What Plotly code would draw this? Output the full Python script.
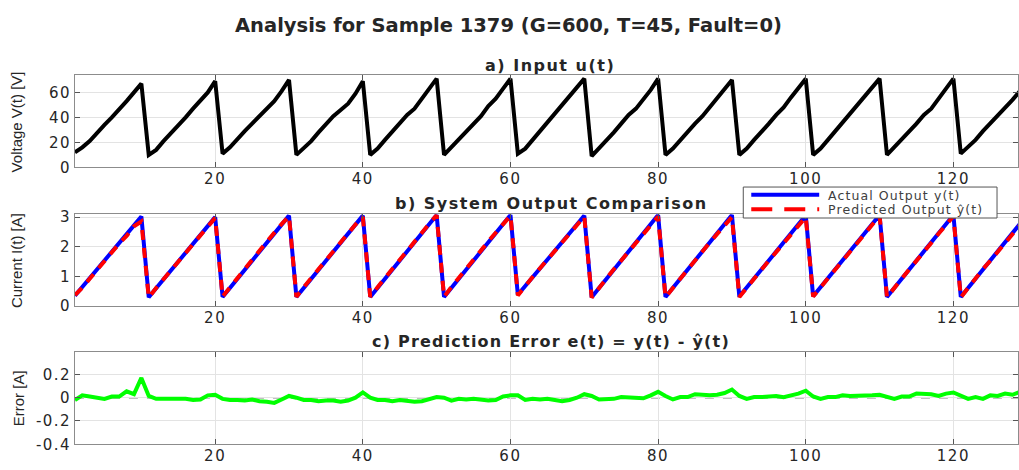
import plotly.graph_objects as go

t = list(range(1, 130))

u_input = [
    12, 16, 21, 28, 34, 40, 46, 53, 60, 67,
    10, 14, 21, 27, 33, 40, 47, 53, 60, 69,
    11, 16, 23, 29, 35, 41, 47, 53, 61, 70,
    10, 15, 21, 28, 35, 41, 46, 51, 59, 69,
    10, 15, 22, 29, 35, 42, 47, 55, 62, 71,
    10, 16, 22, 28, 35, 41, 49, 55, 63, 71,
    11, 15, 22, 29, 36, 42, 49, 56, 63, 71,
    9, 15, 21, 28, 35, 42, 47, 54, 62, 71,
    10, 15, 22, 29, 35, 41, 48, 55, 63, 70,
    10, 15, 22, 28, 35, 42, 48, 56, 63, 71,
    10, 15, 22, 29, 36, 42, 49, 56, 63, 71,
    10, 16, 22, 28, 35, 42, 47, 55, 63, 71,
    11, 16, 22, 29, 35, 41, 48, 54, 61,
]

y_actual = [
    0.35, 0.64, 0.93, 1.23, 1.52, 1.82, 2.12, 2.42, 2.72, 3.02,
    0.30, 0.60, 0.90, 1.20, 1.50, 1.80, 2.10, 2.40, 2.70, 3.00,
    0.31, 0.62, 0.92, 1.23, 1.53, 1.84, 2.14, 2.45, 2.75, 3.05,
    0.31, 0.62, 0.92, 1.23, 1.53, 1.84, 2.14, 2.45, 2.75, 3.05,
    0.31, 0.62, 0.93, 1.24, 1.55, 1.85, 2.16, 2.46, 2.77, 3.07,
    0.31, 0.62, 0.93, 1.24, 1.55, 1.85, 2.16, 2.46, 2.77, 3.07,
    0.38, 0.67, 0.97, 1.26, 1.56, 1.85, 2.15, 2.45, 2.75, 3.05,
    0.30, 0.61, 0.92, 1.23, 1.54, 1.85, 2.15, 2.46, 2.77, 3.07,
    0.31, 0.62, 0.93, 1.24, 1.55, 1.85, 2.16, 2.46, 2.77, 3.07,
    0.32, 0.62, 0.93, 1.23, 1.54, 1.84, 2.15, 2.45, 2.76, 3.06,
    0.33, 0.63, 0.94, 1.24, 1.55, 1.85, 2.16, 2.46, 2.77, 3.07,
    0.31, 0.62, 0.93, 1.24, 1.55, 1.85, 2.16, 2.46, 2.77, 3.07,
    0.31, 0.62, 0.93, 1.24, 1.55, 1.85, 2.16, 2.46, 2.77,
]

error = [
    -0.02, 0.02, 0.01, 0.00, -0.01, 0.01, 0.01, 0.055, 0.03, 0.17,
    0.015, -0.01, -0.01, -0.015, -0.01, -0.01, -0.02, -0.015, 0.02, 0.025,
    -0.01, -0.02, -0.02, -0.025, -0.015, -0.03, -0.035, -0.045, -0.015, 0.015,
    0.00, -0.02, -0.02, -0.03, -0.025, -0.025, -0.035, -0.025, 0.00, 0.045,
    0.00, -0.02, -0.02, -0.03, -0.02, -0.025, -0.035, -0.03, -0.01, 0.005,
    0.00, -0.025, -0.01, -0.015, -0.01, -0.02, -0.025, -0.02, 0.01, 0.02,
    0.02, -0.02, -0.01, -0.015, -0.01, -0.02, -0.03, -0.02, 0.00, 0.03,
    0.015, -0.015, -0.01, -0.01, 0.005, 0.00, 0.00, -0.005, 0.02, 0.05,
    0.015, -0.015, 0.005, 0.005, 0.03, 0.025, 0.02, 0.025, 0.04, 0.07,
    0.015, -0.01, 0.005, 0.005, 0.01, 0.015, 0.005, 0.02, 0.035, 0.06,
    0.01, -0.01, 0.005, 0.005, 0.02, 0.015, 0.015, 0.015, 0.02, 0.025,
    0.01, -0.01, 0.01, 0.01, 0.035, 0.03, 0.03, 0.015, 0.035, 0.045,
    0.015, -0.01, 0.005, -0.01, 0.02, 0.015, 0.035, 0.025, 0.05,
]

y_pred = [round(a - e, 4) for a, e in zip(y_actual, error)]

x_ticks = [20, 40, 60, 80, 100, 120]
u_ticks = [0, 20, 40, 60]
y_ticks = [0, 1, 2, 3]
e_ticks = [-0.4, -0.2, 0, 0.2]
e_tick_labels = ["-0.4", "-0.2", "0", "0.2"]

series_names = ["Actual Output y(t)", "Predicted Output ŷ(t)"]

W, H = 1019, 470
FONT = "DejaVu Sans"
LFONT = "Liberation Sans"
TXT = "#262626"
GRID = "#e3e3e3"
AXC = "#8c8c8c"


def sp(text, px):
    return f'<span style="letter-spacing:{px}px">{text}</span>'


def py(px):
    return 1 - px / H


def pxx(px):
    return px / W


x_dom = [75 / W, 1.0]
dom_a = [py(166.7), py(71.7)]
dom_b = [py(310), py(215)]
dom_c = [py(452.7), py(357.7)]

fig = go.Figure()

fig.add_trace(go.Scatter(x=t, y=u_input, mode="lines", line=dict(color="black", width=4),
                         xaxis="x", yaxis="y", showlegend=False))
fig.add_trace(go.Scatter(x=t, y=y_actual, mode="lines", name=series_names[0],
                         line=dict(color="#0000ff", width=4), xaxis="x2", yaxis="y2", showlegend=False))
fig.add_trace(go.Scatter(x=t, y=y_pred, mode="lines", name=series_names[1],
                         line=dict(color="#ff0000", width=4, dash="10px,8px"), xaxis="x2", yaxis="y2",
                         showlegend=False))
fig.add_trace(go.Scatter(x=t, y=error, mode="lines", line=dict(color="#00ff00", width=4),
                         xaxis="x3", yaxis="y3", showlegend=False))

TICKFONT = dict(family=FONT, size=15, color=TXT)
xcommon = dict(range=[1, 128.75], domain=x_dom, tickvals=x_ticks,
               ticktext=[sp(str(v), 1.6) for v in x_ticks],
               showgrid=True, gridcolor=GRID, ticklabelstandoff=-2,
               gridwidth=1, zeroline=False, showline=True, linecolor=AXC, linewidth=1, mirror="ticks",
               ticks="inside", ticklen=5, tickcolor="#555", tickfont=TICKFONT)
ycommon = dict(showgrid=True, gridcolor=GRID, gridwidth=1, zeroline=False, showline=True,
               linecolor=AXC, linewidth=1, mirror="ticks", ticks="inside", ticklen=5, tickcolor="#555",
               tickfont=TICKFONT)

fig.update_layout(
    width=W, height=H, margin=dict(l=0, r=0, t=0, b=0),
    paper_bgcolor="white", plot_bgcolor="white",
    xaxis=dict(anchor="y", **xcommon),
    xaxis2=dict(anchor="y2", **xcommon),
    xaxis3=dict(anchor="y3", **xcommon),
    yaxis=dict(anchor="x", domain=dom_a, range=[0, 73.6], tickvals=u_ticks,
               ticktext=[sp(str(v), 1.4) for v in u_ticks], **ycommon),
    yaxis2=dict(anchor="x2", domain=dom_b, range=[0, 3.1], tickvals=y_ticks,
                ticktext=[sp(str(v), 1.4) for v in y_ticks], **ycommon),
    yaxis3=dict(anchor="x3", domain=dom_c, range=[-0.4, 0.39], tickvals=e_ticks,
                ticktext=[sp(s, 1.4) for s in e_tick_labels], **ycommon),
    showlegend=False,
)

# zero reference line in error panel
fig.add_shape(type="line", xref="x3 domain", yref="y3", x0=0, x1=1, y0=0, y1=0,
              line=dict(color="#808080", width=1.5, dash="dash"), layer="below")

# legend box (panel b)
fig.add_shape(type="rect", xref="paper", yref="paper", x0=pxx(744), x1=pxx(998), y0=py(219), y1=py(187),
              fillcolor="white", line=dict(color="#555", width=1), layer="above")
fig.add_shape(type="line", xref="paper", yref="paper", x0=pxx(752), x1=pxx(820), y0=py(195), y1=py(195),
              line=dict(color="#0000ff", width=4), layer="above")
fig.add_shape(type="line", xref="paper", yref="paper", x0=pxx(752), x1=pxx(820), y0=py(210), y1=py(210),
              line=dict(color="#ff0000", width=4, dash="21px,12px"), layer="above")

ann = [
    dict(text="<b>Analysis for Sample 1379 (G=600, T=45, Fault=0)</b>", x=pxx(509), y=py(20),
         xanchor="center", font=dict(family=FONT, size=19.5, color=TXT)),
    dict(text="<b>" + sp("a) Input u(t)", 1.5) + "</b>", x=pxx(551), y=py(61),
         xanchor="center", font=dict(family=FONT, size=16, color=TXT)),
    dict(text="<b>" + sp("b) System Output Comparison", 1.5) + "</b>", x=pxx(552), y=py(204),
         xanchor="center", font=dict(family=FONT, size=16, color=TXT)),
    dict(text="<b>" + sp("c) Prediction Error e(t) = y(t) - ŷ(t)", 1.2) + "</b>", x=pxx(552), y=py(347),
         xanchor="center", font=dict(family=FONT, size=16, color=TXT)),
    dict(text=sp(series_names[0], 1.1), x=pxx(827), y=py(196), xanchor="left",
         font=dict(family=FONT, size=12.5, color="#404040")),
    dict(text=sp(series_names[1], 1.1), x=pxx(827), y=py(210.5), xanchor="left",
         font=dict(family=FONT, size=12.5, color="#404040")),
    dict(text="Voltage V(t) [V]", x=pxx(16), y=(dom_a[0] + dom_a[1]) / 2, textangle=-90,
         xanchor="center", font=dict(family=LFONT, size=15, color=TXT)),
    dict(text="Current I(t) [A]", x=pxx(16), y=(dom_b[0] + dom_b[1]) / 2, textangle=-90,
         xanchor="center", font=dict(family=LFONT, size=15, color=TXT)),
    dict(text="Error [A]", x=pxx(18), y=(dom_c[0] + dom_c[1]) / 2, textangle=-90,
         xanchor="center", font=dict(family=LFONT, size=15, color=TXT)),
]
for a in ann:
    fig.add_annotation(xref="paper", yref="paper", showarrow=False, yanchor="middle", **a)

fig.write_html("out.html")
